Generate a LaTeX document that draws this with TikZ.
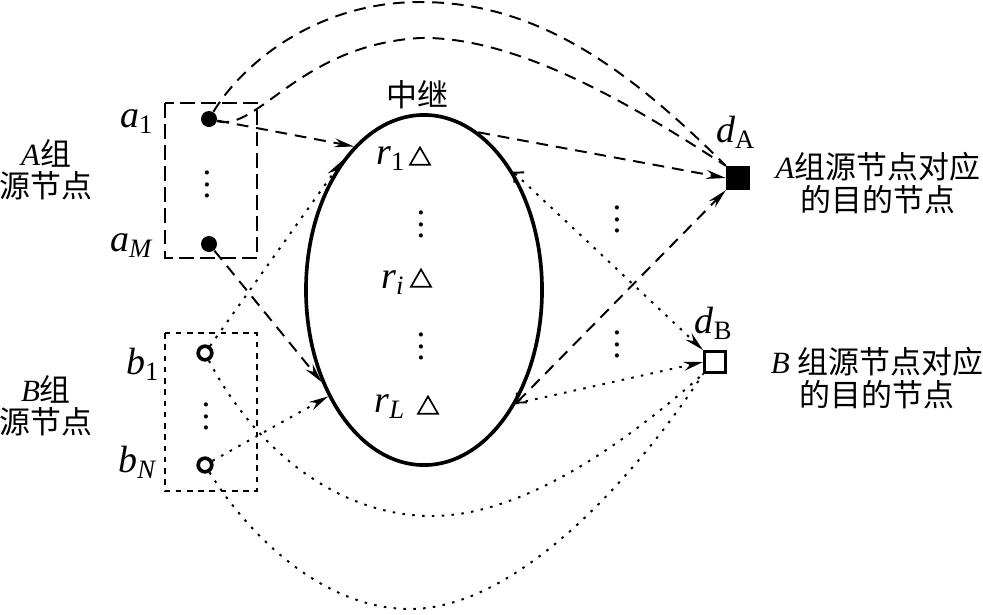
\documentclass[tikz,border=0pt]{standalone}
\usepackage{fontspec}
\setmainfont{Liberation Serif}
\newfontfamily\cjk{Noto Sans CJK SC}
\usepackage{tikz}
\usetikzlibrary{shapes.geometric,arrows.meta}

\newcommand{\lab}[2]{\textit{#1}\textsubscript{#2}}

\begin{document}
\begin{tikzpicture}[
  x=0.0125cm, y=-0.0125cm,
  font=\fontsize{11}{11.5}\selectfont,
  >={Stealth[length=7pt,width=3.2pt]},
  lnA/.style={line width=0.7pt, dash pattern=on 4.2pt off 2.8pt},
  lnB/.style={line width=0.7pt, dash pattern=on 0.9pt off 2.6pt},
  bi/.style={arrows={Straight Barb[length=2.5pt,width=5pt]}-{Stealth[length=7pt,width=3.2pt]}},
  srcA/.style={circle, fill, inner sep=0pt, minimum size=0.2cm},
  srcB/.style={circle, draw, line width=1.3pt, inner sep=0pt, minimum size=0.17cm},
  rly/.style={regular polygon, regular polygon sides=3, draw, line width=0.6pt,
              inner sep=0pt, minimum size=0.29cm},
  lbl/.style={inner sep=1pt, font=\fontsize{13.5}{14}\selectfont},
  vd/.style={inner sep=0pt, font=\fontsize{12.5}{12.5}\selectfont},
  txt/.style={align=center, inner sep=0pt},
]
\useasboundingbox (0,0) rectangle (983,614);

%% ===== SOURCES =====
\draw[line width=0.8pt, dash pattern=on 5.3pt off 2.2pt] (165,103) rectangle (257,258);
\draw[line width=0.8pt, dash pattern=on 2pt off 2pt] (165,333) rectangle (257,491);

\node[srcA] (a1) at (209,119) {};
\node[srcA] (aM) at (209,244) {};
\node[vd] (adots) at (207,176) {\vdots};
\node[srcB] (b1) at (205,353) {};
\node[srcB] (bN) at (205,465) {};
\node[vd] (bdots) at (206,408) {\vdots};

\node[lbl] (la1) at (137,122) {\lab{a}{1}};
\node[lbl] (laM) at (132,246) {\lab{a}{\textit{M}}};
\node[lbl] (lb1) at (143,364) {\lab{b}{1}};
\node[lbl] (lbN) at (138,462) {\lab{b}{\textit{N}}};

\node[txt] (grpA) at (46,170) {\textit{A}{\cjk 组}\\{\cjk 源节点}};
\node[txt] (grpB) at (46,406) {\textit{B}{\cjk 组}\\{\cjk 源节点}};

%% ===== RELAYS =====
\node[ellipse, draw, line width=1.3pt, minimum width=2.95cm, minimum height=4.375cm,
      inner sep=0pt] (rel) at (424,290) {};
\node (rtitle) at (417,95) {\cjk 中继};

\node[rly] (r1) at (420,159) {};
\node[rly] (ri) at (421,281) {};
\node[rly] (rL) at (428,408) {};
\node[lbl] (lr1) at (391,159) {\lab{r}{1}};
\node[lbl] (lri) at (393,283) {\lab{r}{\textit{i}}};
\node[lbl] (lrL) at (390,407) {\lab{r}{\textit{L}}};
\node[vd] (rdots1) at (421,216) {\vdots};
\node[vd] (rdots2) at (421,338) {\vdots};

%% ===== DESTINATIONS =====
\node[rectangle, fill, inner sep=0pt, minimum size=0.29cm] (dA) at (738,178) {};
\node[rectangle, draw, line width=1.1pt, inner sep=0pt, minimum size=0.26cm] (dB) at (715,362) {};
\node[lbl] (ldA) at (736,132) {\lab{d}{A}};
\node[lbl] (ldB) at (714,323) {\lab{d}{B}};
\node[vd] (ddots1) at (617,211) {\vdots};
\node[vd] (ddots2) at (617,336) {\vdots};

\node[txt] (tdA) at (878,183) {\textit{A}{\cjk 组源节点对应}\\{\cjk 的目的节点}};
\node[txt] (tdB) at (877,378) {\textit{B} {\cjk 组源节点对应}\\{\cjk 的目的节点}};

%% ===== CONNECTORS =====
\draw[lnA, ->] (a1) -- (rel.116.7);
\draw[lnA, ->] (aM) -- (rel.222);
\draw[lnA, ->] (rel.71.5) -- (dA.west);
\draw[lnA, bi] (rel.-51.8) -- (dA.south west);
\draw[lnA] (a1) .. controls (245,60) and (320,2) .. (420,2)
                .. controls (530,2) and (620,60) .. (dA.north west);
\draw[lnA] (a1) .. controls (258,132) and (300,45) .. (420,38)
                .. controls (520,36) and (640,110) .. (dA.north west);

\draw[lnB, ->] (b1) -- (rel.122.9);
\draw[lnB, ->] (bN) -- (rel.228);
\draw[lnB, bi] (rel.53) -- (dB.north west);
\draw[lnB, ->] (rel.-51.8) -- (dB.west);
\draw[lnB] (b1) .. controls (250,440) and (330,515) .. (430,516)
                .. controls (530,517) and (640,430) .. (dB.south west);
\draw[lnB] (bN) .. controls (245,530) and (320,609) .. (410,609)
                .. controls (520,609) and (640,470) .. (dB.south west);

\end{tikzpicture}
\end{document}
